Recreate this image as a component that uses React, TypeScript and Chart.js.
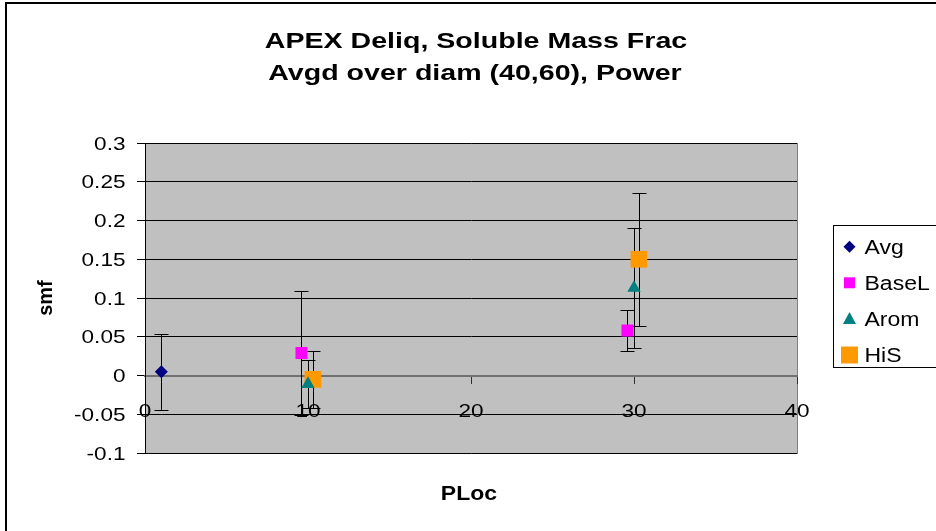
import React, { useEffect, useRef } from 'react';
import { Chart, registerables } from 'chart.js';

Chart.register(...registerables);

const chartTitle = ['APEX Deliq, Soluble Mass Frac', 'Avgd over diam (40,60), Power'];
const xAxisTitle = 'PLoc';
const yAxisTitle = 'smf';
const seriesNames = ['Avg', 'BaseL', 'Arom', 'HiS'];
const seriesColors = ['#000080', '#FF00FF', '#008080', '#FF9900'];

const avgX = [1.0];
const avgY = [0.005];
const avgErr = [0.049];

const baseLX = [9.6, 29.6];
const baseLY = [0.029, 0.058];
const baseLErr = [0.08, 0.027];

const aromX = [10.0, 30.0];
const aromY = [-0.011, 0.113];
const aromErr = [0.031, 0.077];

const hisX = [10.3, 30.3];
const hisY = [-0.005, 0.15];
const hisErr = [0.037, 0.086];

const xTicks = [0, 10, 20, 30, 40];
const xTickLabels = ['0', '10', '20', '30', '40'];
const yTicks = [-0.1, -0.05, 0, 0.05, 0.1, 0.15, 0.2, 0.25, 0.3];
const yTickLabels = ['-0.1', '-0.05', '0', '0.05', '0.1', '0.15', '0.2', '0.25', '0.3'];

const seriesX = [avgX, baseLX, aromX, hisX];
const seriesY = [avgY, baseLY, aromY, hisY];
const seriesErr = [avgErr, baseLErr, aromErr, hisErr];

const FONT = 'Arial, "Liberation Sans", sans-serif';

function stretchText(
  ctx: CanvasRenderingContext2D,
  text: string,
  x: number,
  y: number,
  font: string,
  align: CanvasTextAlign,
  sx: number,
  rotate = 0
) {
  ctx.save();
  ctx.translate(x, y);
  if (rotate) ctx.rotate(rotate);
  ctx.scale(sx, 1);
  ctx.font = font;
  ctx.textAlign = align;
  ctx.textBaseline = 'alphabetic';
  ctx.fillStyle = '#000';
  ctx.fillText(text, 0, 0);
  ctx.restore();
}

function drawSymbol(ctx: CanvasRenderingContext2D, i: number, x: number, y: number) {
  ctx.save();
  ctx.fillStyle = seriesColors[i];
  ctx.beginPath();
  if (i === 0) {
    const r = 6;
    ctx.moveTo(x - r, y);
    ctx.lineTo(x, y - r);
    ctx.lineTo(x + r, y);
    ctx.lineTo(x, y + r);
    ctx.closePath();
  } else if (i === 1) {
    ctx.rect(x - 5.5, y - 5.5, 11, 11);
  } else if (i === 2) {
    ctx.moveTo(x, y - 7);
    ctx.lineTo(x + 6.5, y + 5);
    ctx.lineTo(x - 6.5, y + 5);
    ctx.closePath();
  } else {
    ctx.rect(x - 8.5, y - 8.5, 17, 17);
  }
  ctx.fill();
  ctx.restore();
}

const backgroundPlugin = {
  id: 'excelBackground',
  beforeDraw(chart: any) {
    const { ctx, chartArea: a } = chart;
    ctx.save();
    ctx.fillStyle = '#FFFFFF';
    ctx.fillRect(0, 0, chart.width, chart.height);
    ctx.strokeStyle = '#000';
    ctx.lineWidth = 2;
    ctx.strokeRect(6, 3, chart.width + 20, chart.height + 20);
    ctx.fillStyle = '#C0C0C0';
    ctx.fillRect(a.left, a.top, a.right - a.left, a.bottom - a.top);
    ctx.strokeStyle = '#808080';
    ctx.lineWidth = 1;
    ctx.strokeRect(a.left + 0.5, a.top + 0.5, a.right - a.left, a.bottom - a.top);
    ctx.restore();
  },
};

const errorBarPlugin = {
  id: 'errorBars',
  beforeDatasetsDraw(chart: any) {
    const { ctx } = chart;
    const xs = chart.scales.x;
    const ys = chart.scales.y;
    ctx.save();
    ctx.strokeStyle = '#000';
    ctx.lineWidth = 1;
    seriesX.forEach((xv, si) => {
      xv.forEach((x, pi) => {
        const y = seriesY[si][pi];
        const e = seriesErr[si][pi];
        const px = Math.round(xs.getPixelForValue(x)) + 0.5;
        const top = Math.round(ys.getPixelForValue(y + e)) + 0.5;
        const bot = Math.round(ys.getPixelForValue(y - e)) + 0.5;
        ctx.beginPath();
        ctx.moveTo(px, top);
        ctx.lineTo(px, bot);
        ctx.moveTo(px - 7, top);
        ctx.lineTo(px + 7, top);
        ctx.moveTo(px - 7, bot);
        ctx.lineTo(px + 7, bot);
        ctx.stroke();
      });
    });
    ctx.restore();
  },
};

const textPlugin = {
  id: 'excelTexts',
  afterDraw(chart: any) {
    const { ctx, chartArea: a } = chart;
    const xs = chart.scales.x;
    const ys = chart.scales.y;
    // title
    const ttl = 22.5;
    stretchText(ctx, chartTitle[0], 476, 40 + ttl * 0.358, `bold ${ttl}px ${FONT}`, 'center', 1.27);
    stretchText(ctx, chartTitle[1], 475, 71.5 + ttl * 0.358, `bold ${ttl}px ${FONT}`, 'center', 1.27);
    // y tick labels
    const tfs = 18.5;
    ys.ticks.forEach((t: any, i: number) => {
      const py = ys.getPixelForValue(t.value);
      stretchText(ctx, yTickLabels[i], a.left - 19.5, py + tfs * 0.358, `${tfs}px ${FONT}`, 'right', 1.22);
    });
    // x tick labels
    const zeroY = ys.getPixelForValue(0);
    xs.ticks.forEach((t: any, i: number) => {
      const px = xs.getPixelForValue(t.value);
      stretchText(ctx, xTickLabels[i], px, zeroY + 34.5 + tfs * 0.358, `${tfs}px ${FONT}`, 'center', 1.22);
    });
    // axis titles
    stretchText(ctx, xAxisTitle, (a.left + a.right) / 2 - 2, 500, `bold 19.5px ${FONT}`, 'center', 1.18);
    stretchText(ctx, yAxisTitle, 52, (a.top + a.bottom) / 2, `bold 20px ${FONT}`, 'center', 1.0, -Math.PI / 2);
    // legend
    ctx.save();
    ctx.strokeStyle = '#000';
    ctx.lineWidth = 1;
    ctx.strokeRect(833.5, 225.5, 200, 142);
    ctx.restore();
    const lfs = 19.5;
    seriesNames.forEach((name, i) => {
      const cy = 246.7 + i * 36.1;
      drawSymbol(ctx, i, 849.5, cy);
      stretchText(ctx, name, 864.5, cy + lfs * 0.358, `${lfs}px ${FONT}`, 'left', 1.18);
    });
  },
};

export default function App() {
  const canvasRef = useRef<HTMLCanvasElement | null>(null);

  useEffect(() => {
    const canvas = canvasRef.current;
    if (!canvas) return;
    const pointStyles = ['rectRot', 'rect', 'triangle', 'rect'];
    const pointRadii = [6.5, 8.5, 7.7, 11.8];
    const datasets = seriesNames.map((name, si) => ({
      label: name,
      data: seriesX[si].map((x, pi) => ({ x, y: seriesY[si][pi] })),
      showLine: false,
      pointStyle: pointStyles[si],
      pointRadius: pointRadii[si],
      pointHoverRadius: pointRadii[si],
      backgroundColor: seriesColors[si],
      borderColor: seriesColors[si],
      borderWidth: 0,
    }));

    const chart = new Chart(canvas, {
      type: 'scatter',
      data: { datasets },
      options: {
        animation: false,
        responsive: true,
        maintainAspectRatio: false,
        devicePixelRatio: 1,
        layout: { padding: { left: 145, top: 143, right: 139, bottom: 78 } },
        plugins: {
          legend: { display: false },
          title: { display: false },
          tooltip: { enabled: false },
        },
        scales: {
          x: {
            type: 'linear',
            position: { y: 0 } as any,
            min: 0,
            max: 40,
            afterBuildTicks: (s: any) => {
              s.ticks = xTicks.map((v) => ({ value: v }));
            },
            grid: {
              drawOnChartArea: false,
              drawTicks: true,
              tickLength: 7,
              tickColor: '#303030',
              lineWidth: 1,
            },
            border: { display: true, color: '#707070', width: 2 },
            ticks: { display: false },
          },
          y: {
            type: 'linear',
            position: 'left',
            min: -0.1,
            max: 0.3,
            afterBuildTicks: (s: any) => {
              s.ticks = yTicks.map((v) => ({ value: v }));
            },
            afterFit: (s: any) => {
              s.width = 0;
            },
            grid: {
              color: (c: any) => (c.tick && c.tick.value === 0 ? 'rgba(0,0,0,0)' : '#000000'),
              tickColor: '#000000',
              drawTicks: true,
              tickLength: 8,
              lineWidth: 1,
            },
            border: { display: true, color: '#000000', width: 1 },
            ticks: { display: false },
          },
        },
      },
      plugins: [backgroundPlugin, errorBarPlugin, textPlugin],
    } as any);

    return () => {
      chart.destroy();
    };
  }, []);

  return (
    <div style={{ position: 'fixed', left: 0, top: 0, width: 936, height: 531, background: '#fff' }}>
      <canvas ref={canvasRef} />
    </div>
  );
}
